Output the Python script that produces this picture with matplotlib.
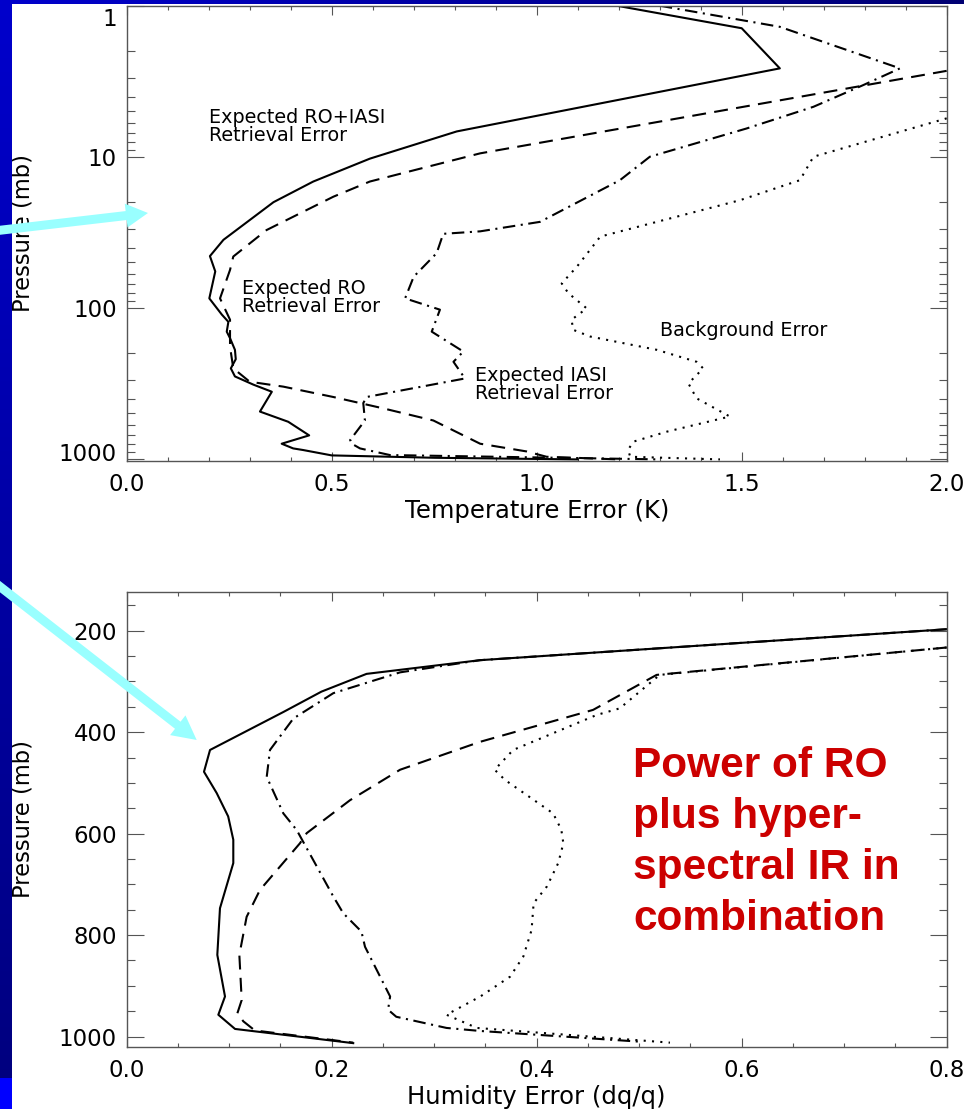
import numpy as np
import matplotlib
matplotlib.use('Agg')
import matplotlib.pyplot as plt
import matplotlib.transforms as mtransforms
from matplotlib.patches import FancyArrow
from matplotlib.ticker import FixedLocator, MultipleLocator, LogLocator, NullFormatter, FormatStrFormatter

plt.rcParams['font.family'] = ['DejaVu Sans']
plt.rcParams['lines.scale_dashes'] = False

# ---------------- data: temperature panel (x = error K, y = pressure mb) ----------------
t_combined_p = [1, 1.41, 2.6, 6.8, 10.3, 14.6, 20.0, 35.5, 45.5, 57.5, 86.7, 111, 124, 144, 159, 190,
                219, 252, 285, 323, 360, 487, 569, 700, 795, 854, 875, 950, 985, 1010]
t_combined_x = [1.195, 1.50, 1.593, 0.805, 0.593, 0.455, 0.358, 0.236, 0.203, 0.216, 0.2015, 0.232, 0.248,
                0.244, 0.252, 0.264, 0.266, 0.254, 0.264, 0.309, 0.354, 0.325, 0.394, 0.445, 0.378, 0.406,
                0.43, 0.50, 0.75, 1.10]

t_ro_p = [2.7, 9.5, 14.6, 18.4, 30.6, 45.8, 56.2, 86.7, 120, 181, 252, 309, 333, 390, 464, 558, 795,
          895, 970, 1010]
t_ro_x = [2.0, 0.862, 0.593, 0.504, 0.341, 0.26, 0.252, 0.2276, 0.252, 0.252, 0.26, 0.30, 0.382, 0.504,
          0.626, 0.748, 0.862, 0.976, 1.024, 1.2]

t_iasi_p = [1, 1.38, 2.6, 3.35, 4.67, 6.5, 10, 14.3, 27, 31.2, 32.4, 43.5, 62.3, 86.7, 103, 144, 195,
            228, 294, 390, 428, 558, 752, 795, 854, 945, 1010]
t_iasi_x = [1.30, 1.593, 1.886, 1.797, 1.675, 1.512, 1.276, 1.203, 1.008, 0.862, 0.772, 0.756, 0.70,
            0.679, 0.764, 0.744, 0.821, 0.797, 0.825, 0.585, 0.577, 0.581, 0.545, 0.549, 0.569, 0.642, 1.3]

t_bg_p = [5.57, 10, 14.3, 19.4, 33.8, 41.4, 53.5, 69, 80, 101, 120, 140, 155, 190, 228, 252, 317, 398,
          525, 662, 770, 871, 970, 1010]
t_bg_x = [2.0, 1.675, 1.642, 1.496, 1.155, 1.13, 1.098, 1.061, 1.077, 1.122, 1.085, 1.089, 1.13, 1.293,
          1.39, 1.406, 1.37, 1.39, 1.471, 1.317, 1.236, 1.223, 1.228, 1.447]

# ---------------- data: humidity panel (x = dq/q, y = pressure mb) ----------------
q_combined_p = [197, 258, 285, 320, 360, 435, 478, 520, 566, 612, 658, 747, 839, 921, 957, 985, 1013]
q_combined_x = [0.8, 0.3447, 0.234, 0.190, 0.153, 0.0813, 0.0754, 0.0878, 0.099, 0.104, 0.104, 0.091,
                0.0884, 0.0959, 0.0894, 0.1057, 0.221]

q_iasi_p = [197, 258, 282, 323, 373, 435, 488, 560, 593, 724, 757, 793, 823, 921, 947, 961, 983, 989, 1010]
q_iasi_x = [0.8, 0.3447, 0.2667, 0.2016, 0.1626, 0.1398, 0.1366, 0.1528, 0.1659, 0.2016, 0.2113, 0.229,
            0.2325, 0.257, 0.255, 0.263, 0.312, 0.345, 0.50]

q_ro_p = [233, 287, 356, 419, 474, 534, 599, 619, 711, 764, 839, 928, 954, 970, 988, 1012]
q_ro_x = [0.8, 0.517, 0.455, 0.3447, 0.2667, 0.2179, 0.1756, 0.169, 0.130, 0.117, 0.1099, 0.1122,
          0.108, 0.1138, 0.125, 0.221]

q_bg_p = [233, 287, 353, 366, 435, 474, 494, 560, 592, 619, 658, 704, 737, 790, 842, 882, 921, 957,
          983, 1012]
q_bg_x = [0.8, 0.52, 0.481, 0.4585, 0.377, 0.359, 0.369, 0.416, 0.424, 0.426, 0.421, 0.41, 0.397,
          0.395, 0.387, 0.374, 0.345, 0.312, 0.3415, 0.53]

# ---------------- labels ----------------
t_ticks = [1, 10, 100, 1000]
t_ticklabels = ['1', '10', '100', '1000']
q_ticks = [200, 400, 600, 800, 1000]
annot_top = [
    ("Expected RO+IASI\nRetrieval Error", 0.20, 6.3),
    ("Expected RO\nRetrieval Error", 0.28, 85.6),
    ("Background Error", 1.30, 140.5),
    ("Expected IASI\nRetrieval Error", 0.85, 323),
]
red_lines = ["Power of RO", "plus hyper-", "spectral IR in", "combination"]

# ---------------- figure ----------------
W, H = 964, 1109
fig = plt.figure(figsize=(W / 100, H / 100), dpi=100, facecolor='white')


def fpos(l, t, r, b):
    return [l / W, 1 - b / H, (r - l) / W, (b - t) / H]


ax1 = fig.add_axes(fpos(126.7, 5.7, 946.7, 460.7))
ax2 = fig.add_axes(fpos(126.7, 591.7, 946.7, 1046.7))

S_SOLID = '-'
S_DASH = (0, (10, 6))
S_DASHDOT = (0, (9, 4, 1.5, 4))
S_DOT = (0, (1.5, 4.5))
LW = 1.5

ax1.plot(t_combined_x, t_combined_p, color='black', ls=S_SOLID, lw=LW)
ax1.plot(t_ro_x, t_ro_p, color='black', ls=S_DASH, lw=LW)
ax1.plot(t_iasi_x, t_iasi_p, color='black', ls=S_DASHDOT, lw=LW)
ax1.plot(t_bg_x, t_bg_p, color='black', ls=S_DOT, lw=LW)

ax2.plot(q_combined_x, q_combined_p, color='black', ls=S_SOLID, lw=LW)
ax2.plot(q_ro_x, q_ro_p, color='black', ls=S_DASH, lw=LW)
ax2.plot(q_iasi_x, q_iasi_p, color='black', ls=S_DASHDOT, lw=LW)
ax2.plot(q_bg_x, q_bg_p, color='black', ls=S_DOT, lw=LW)

# axes 1
ax1.set_yscale('log')
ax1.set_ylim(1030, 1)
ax1.set_xlim(0, 2.0)
ax1.yaxis.set_major_locator(FixedLocator(t_ticks))
ax1.set_yticklabels(t_ticklabels)
ax1.yaxis.set_minor_locator(LogLocator(base=10, subs=np.arange(2, 10)))
ax1.yaxis.set_minor_formatter(NullFormatter())
ax1.xaxis.set_major_locator(MultipleLocator(0.5))
ax1.xaxis.set_minor_locator(MultipleLocator(0.1))
ax1.xaxis.set_major_formatter(FormatStrFormatter('%.1f'))

# axes 2
ax2.set_ylim(1020, 123)
ax2.set_xlim(0, 0.8)
ax2.yaxis.set_major_locator(FixedLocator(q_ticks))
ax2.yaxis.set_minor_locator(MultipleLocator(50))
ax2.xaxis.set_major_locator(MultipleLocator(0.2))
ax2.xaxis.set_minor_locator(MultipleLocator(0.05))
ax2.xaxis.set_major_formatter(FormatStrFormatter('%.1f'))

for ax in (ax1, ax2):
    for sp in ax.spines.values():
        sp.set_color('#555555')
        sp.set_linewidth(1.0)
    ax.tick_params(which='both', direction='in', top=True, right=True, color='#555555',
                   width=0.8, labelsize=16.5, labelcolor='black')
    ax.tick_params(axis='y', which='major', length=12, pad=7)
    ax.tick_params(axis='y', which='minor', length=6)
    ax.tick_params(axis='x', which='major', length=6.5, pad=9)
    ax.tick_params(axis='x', which='minor', length=3)
    ax.set_ylabel('Pressure (mb)', fontsize=16.3)
    ax.yaxis.set_label_coords(-0.112, 0.5)

ax1.set_xlabel('Temperature Error (K)', fontsize=17.5)
ax2.set_xlabel('Humidity Error (dq/q)', fontsize=17.5)
ax1.xaxis.set_label_coords(0.5, -0.085)
ax2.xaxis.set_label_coords(0.5, -0.085)

for txt, x, y in annot_top:
    ax1.text(x, y, txt, fontsize=13.8, ha='left', va='center', linespacing=0.95, color='black')

for i, line in enumerate(red_lines):
    ax2.text(0.4943, 488 + i * 100.7, line, fontsize=30.5, fontweight='bold', color='#CC0000',
             family='Liberation Sans', ha='left', va='baseline')

# keep the end labels of the log axis inside the frame (as in the original)
fig.canvas.draw()
ylabs = ax1.yaxis.get_majorticklabels()
ylabs[0].set_transform(ylabs[0].get_transform() +
                       mtransforms.ScaledTranslation(0, -0.11, fig.dpi_scale_trans))
ylabs[-1].set_transform(ylabs[-1].get_transform() +
                        mtransforms.ScaledTranslation(0, 0.07, fig.dpi_scale_trans))

# ---------------- overlay: slide decorations and arrows ----------------
ov = fig.add_axes([0, 0, 1, 1], zorder=10)
ov.axis('off')
ov.patch.set_alpha(0)

vgrad = np.linspace(0.80, 0.50, 256).reshape(-1, 1)
img = np.zeros((256, 1, 3))
img[..., 2] = vgrad
ov.imshow(img, extent=(0, 12, 1078, 0), aspect='auto', interpolation='bilinear')
ov.fill_between([0, 12], 1078, H, color='#0000FF', lw=0)
hgrad = np.linspace(0.80, 0.45, 256).reshape(1, -1)
img2 = np.zeros((1, 256, 3))
img2[..., 2] = hgrad
ov.imshow(img2, extent=(0, W, 4.5, 0), aspect='auto', interpolation='bilinear')
ov.set_xlim(0, W)
ov.set_ylim(H, 0)

cyan = '#99FFFF'
ov.add_patch(FancyArrow(-2, 230.5, 150, -17.5, width=9, head_width=24, head_length=22,
                        length_includes_head=True, color=cyan, lw=0))
ov.add_patch(FancyArrow(-4, 583.5, 200.7, 156.5, width=9, head_width=25, head_length=24,
                        length_includes_head=True, color=cyan, lw=0))

fig.savefig('out.png', dpi=100, facecolor='white')
